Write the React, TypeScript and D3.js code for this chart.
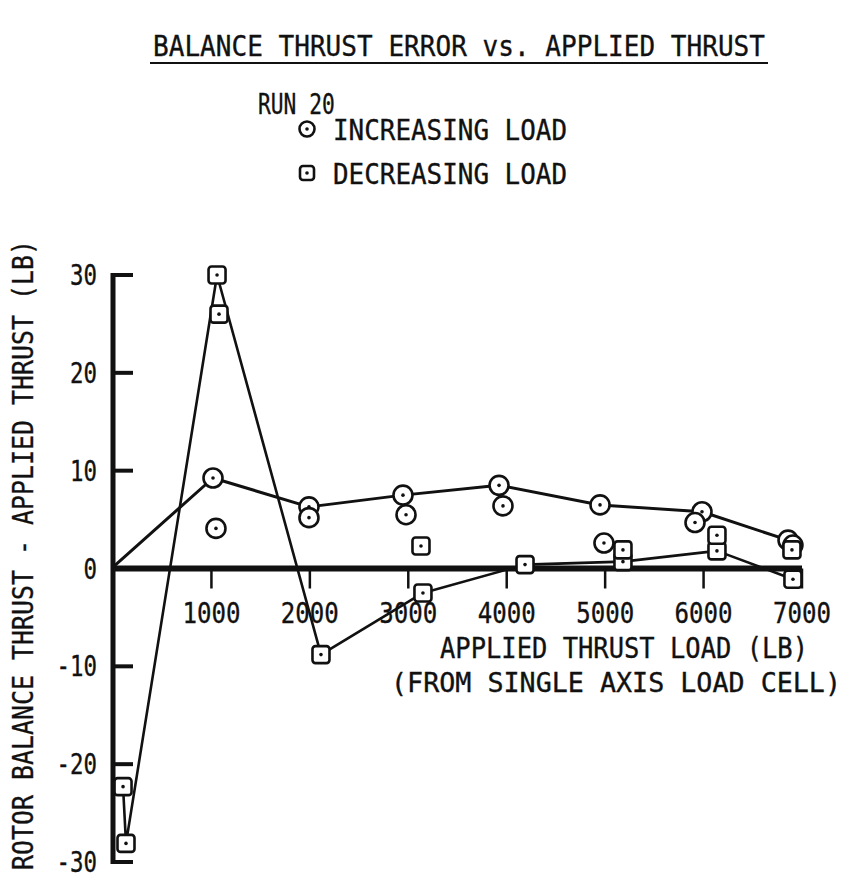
import React from "react";
import * as d3 from "d3";

// Applied thrust load (lb) and balance error (lb), increasing load, joined by a line
const incLineLoad = [0, 1016, 1991, 2946, 3922, 4948, 5984, 6858];
const incLineErr = [0.15, 9.25, 6.3, 7.5, 8.5, 6.5, 5.8, 2.9];
// Further increasing-load readings, plotted as marks only
const incExtraLoad = [1046, 1991, 2977, 3962, 4988, 5913, 6908];
const incExtraErr = [4.1, 5.2, 5.5, 6.4, 2.6, 4.7, 2.4];

// Decreasing load, in the order the load was taken off, joined by a line
const decLineLoad = [6908, 6136, 5181, 4186, 3149, 2113, 1057, 132, 102];
const decLineErr = [-1.1, 1.8, 0.7, 0.4, -2.5, -8.8, 30, -28.1, -22.3];
// Further decreasing-load readings, marks only
const decExtraLoad = [1077, 3129, 5181, 6136, 6898];
const decExtraErr = [26, 2.3, 1.9, 3.4, 1.9];

const xTicks = [1000, 2000, 3000, 4000, 5000, 6000, 7000];
const yTicks = [30, 20, 10, 0, -10, -20, -30];

const FONT = "'DejaVu Sans Mono', monospace";
const INK = "#111";

// Typewriter-style label: tall glyphs squeezed to a fixed advance per character
function Label(props: {
  x: number;
  y: number;
  text: string;
  size?: number;
  adv?: number;
  anchor?: "start" | "middle" | "end";
  transform?: string;
}) {
  const { x, y, text, size = 28, adv = 14.5, anchor = "start", transform } = props;
  return (
    <text
      x={x}
      y={y}
      transform={transform}
      textAnchor={anchor}
      fontFamily={FONT}
      fontSize={size}
      fill={INK}
      stroke={INK}
      strokeWidth={0.35}
      textLength={text.length * adv}
      lengthAdjust="spacingAndGlyphs"
    >
      {text}
    </text>
  );
}

export default function App() {
  const x = d3.scaleLinear().domain([0, 7000]).range([113, 802]);
  const y = d3.scaleLinear().domain([-30, 30]).range([862, 275]);

  const line = d3
    .line<[number, number]>()
    .x((d) => x(d[0]))
    .y((d) => y(d[1]));

  const incLine = incLineLoad.map((v, i) => [v, incLineErr[i]] as [number, number]);
  const decLine = decLineLoad.map((v, i) => [v, decLineErr[i]] as [number, number]);

  const circles = [
    ...incLine.slice(1),
    ...incExtraLoad.map((v, i) => [v, incExtraErr[i]] as [number, number]),
  ];
  const squares = [
    ...decLine,
    ...decExtraLoad.map((v, i) => [v, decExtraErr[i]] as [number, number]),
  ];

  const Circle = ({ cx, cy, r = 9.5 }: { cx: number; cy: number; r?: number }) => (
    <g>
      <circle cx={cx} cy={cy} r={r} fill="#fff" stroke={INK} strokeWidth={2.6} />
      <circle cx={cx} cy={cy} r={1.8} fill={INK} />
    </g>
  );
  const Square = ({ cx, cy, s = 17 }: { cx: number; cy: number; s?: number }) => (
    <g>
      <rect x={cx - s / 2} y={cy - s / 2} width={s} height={s} rx={3} fill="#fff" stroke={INK} strokeWidth={2.6} />
      <circle cx={cx} cy={cy} r={1.8} fill={INK} />
    </g>
  );

  return (
    <svg width={859} height={890} style={{ position: "absolute", left: 0, top: 0, background: "#fff" }}>
      <rect width={859} height={890} fill="#fff" />
      {/* title block */}
      <Label x={153} y={56} text="BALANCE THRUST ERROR vs. APPLIED THRUST" size={29} adv={612 / 39} />
      <line x1={150} x2={768} y1={63} y2={63} stroke={INK} strokeWidth={2} />
      <Label x={258} y={114} text="RUN 20" size={28} adv={12.8} />
      <Circle cx={307} cy={129} r={7.5} />
      <Label x={333} y={140} text="INCREASING LOAD" size={28} adv={15.6} />
      <Square cx={307} cy={173} s={14} />
      <Label x={333} y={184} text="DECREASING LOAD" size={28} adv={15.6} />

      {/* y axis */}
      <line x1={x(0)} x2={x(0)} y1={y(30) - 2} y2={y(-30) + 2} stroke={INK} strokeWidth={5} />
      {yTicks.filter((t) => t !== 0).map((t) => (
        <line key={t} x1={x(0)} x2={x(0) + 20} y1={y(t)} y2={y(t)} stroke={INK} strokeWidth={4} />
      ))}
      {yTicks.map((t) => (
        <Label key={t} x={97} y={y(t) + 10} text={String(t)} anchor="end" size={28} adv={13.5} />
      ))}
      <Label
        x={0}
        y={0}
        transform="translate(33, 555) rotate(-90)"
        text="ROTOR BALANCE THRUST - APPLIED THRUST (LB)"
        anchor="middle"
        size={28}
        adv={630 / 42}
      />

      {/* x axis */}
      <line x1={x(0)} x2={x(7000)} y1={y(0)} y2={y(0)} stroke={INK} strokeWidth={6} />
      {xTicks.map((t) => (
        <line key={t} x1={x(t)} x2={x(t)} y1={y(0)} y2={y(0) + 20} stroke={INK} strokeWidth={2.5} />
      ))}
      {xTicks.map((t) => (
        <Label key={t} x={x(t)} y={623} text={String(t)} anchor="middle" size={28} adv={14.5} />
      ))}
      <Label x={624} y={658} text="APPLIED THRUST LOAD (LB)" anchor="middle" size={28} adv={368 / 24} />
      <Label x={616} y={692} text="(FROM SINGLE AXIS LOAD CELL)" anchor="middle" size={26} adv={450 / 28} />

      {/* data lines */}
      <path d={line(incLine) ?? ""} fill="none" stroke={INK} strokeWidth={3} strokeLinejoin="round" />
      <path d={line(decLine) ?? ""} fill="none" stroke={INK} strokeWidth={2.6} strokeLinejoin="round" />

      {/* data marks */}
      {circles.map((d, i) => (
        <Circle key={`c${i}`} cx={x(d[0])} cy={y(d[1])} />
      ))}
      {squares.map((d, i) => (
        <Square key={`s${i}`} cx={x(d[0])} cy={y(d[1])} />
      ))}
    </svg>
  );
}
